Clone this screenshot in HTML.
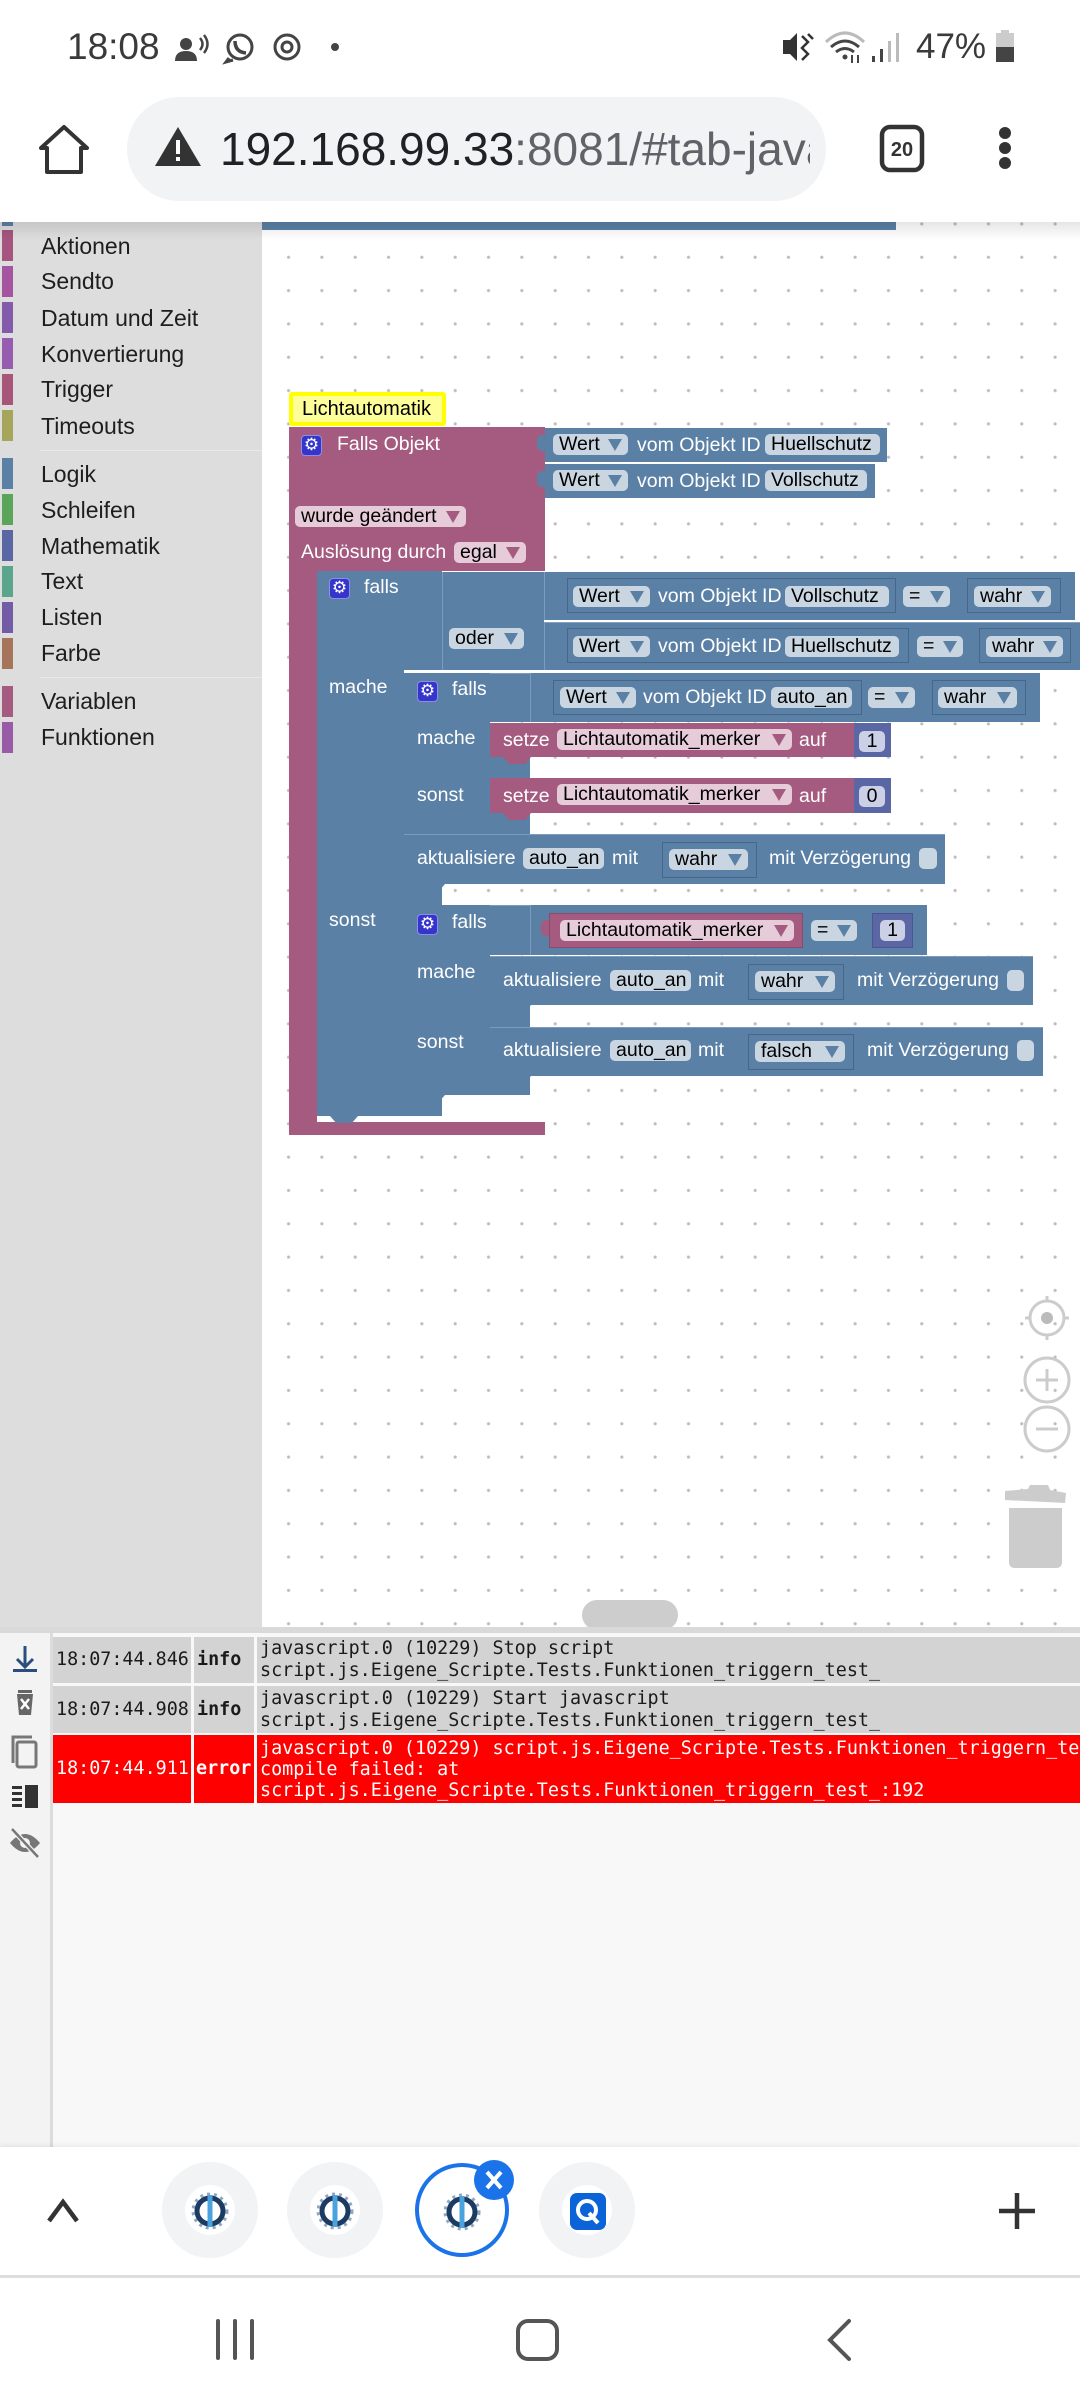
<!DOCTYPE html>
<html><head><meta charset="utf-8">
<style>
*{box-sizing:border-box}
body{margin:0;width:1080px;height:2400px;position:relative;overflow:hidden;background:#fff;font-family:"Liberation Sans",Arial,sans-serif}
.a{position:absolute}
.bl{position:absolute;background:#5b80a5}
.pk{position:absolute;background:#a55b80}
.nm{position:absolute;background:#5b67a5}
.t{position:absolute;color:#fff;font-size:19.5px;line-height:22px;white-space:nowrap}
.f{position:absolute;background:#c9d6e2;border-radius:5px;color:#000;font-size:19.5px;line-height:21px;height:21px;padding-left:6px;white-space:nowrap}
.fp{background:#e6cbd9}
.fn{background:#ccd0e6;padding-left:0;text-align:center}
.tri{position:absolute;right:6px;top:5px;width:0;height:0;border-left:7px solid transparent;border-right:7px solid transparent;border-top:12px solid #5b80a5}
.fp .tri{border-top-color:#a55b80}
.ob{position:absolute;background:#5b80a5;border:1.5px solid #46678a}
.gear{position:absolute;width:21px;height:21px;background:#3535cc;border:1.5px solid #8d8de8;border-radius:4px;color:#fff;font-size:17px;line-height:18px;text-align:center;font-family:"DejaVu Sans",sans-serif}
.tab{position:absolute;width:28px;height:7px;clip-path:polygon(0 0,100% 0,78% 100%,22% 100%)}
.cat{position:absolute;left:41px;font-size:23px;line-height:28px;color:#1e1e1e;white-space:nowrap}
.cb{position:absolute;left:2px;width:11px;height:31px}
.cell{position:absolute;display:flex;align-items:center;font-family:"DejaVu Sans Mono","Liberation Mono",monospace;font-size:18.4px;line-height:22px;white-space:nowrap;overflow:hidden;color:#1a1a1a}
.chk{position:absolute;background:#c9d6e2;border-radius:5px;height:21px}
</style></head><body>

<!-- Status bar -->
<div class="a" style="left:67px;top:26px;font-size:37px;line-height:42px;color:#3a3a3a">18:08</div>
<div class="a" style="left:916px;top:27px;font-size:35px;line-height:40px;color:#3a3a3a">47%</div>
<svg class="a" style="left:0;top:0" width="1080" height="222">
  <circle cx="186" cy="44" r="6" fill="#444"/>
  <path d="M175 61 Q175 51 186 51 Q197 51 197 61 Z" fill="#444"/>
  <path d="M200 38 Q205 44 200 50" stroke="#444" stroke-width="2.5" fill="none"/>
  <path d="M204 35 Q211 44 204 53" stroke="#444" stroke-width="2.5" fill="none"/>
  <circle cx="240" cy="47" r="12" stroke="#444" stroke-width="3" fill="none"/>
  <path d="M229 58 L226 62 L233 60" stroke="#444" stroke-width="3" fill="none"/>
  <path d="M235 41 Q235 52 246 53" stroke="#444" stroke-width="3.5" fill="none"/>
  <circle cx="287" cy="47" r="12" stroke="#444" stroke-width="3" fill="none"/>
  <circle cx="287" cy="47" r="5" stroke="#444" stroke-width="3" fill="none"/>
  <circle cx="335" cy="47" r="4" fill="#444"/>
  <path d="M783 40 L790 40 L797 33 L797 61 L790 54 L783 54 Z" fill="#333"/>
  <path d="M802 36 L808 42 L802 48 L808 54 L802 60" stroke="#333" stroke-width="2.5" fill="none"/>
  <path d="M808 34 L813 39" stroke="#333" stroke-width="2.5"/>
  <path d="M826 42 Q845 24 864 42" stroke="#bbb" stroke-width="3" fill="none"/>
  <path d="M831 47 Q845 35 859 47" stroke="#444" stroke-width="3" fill="none"/>
  <path d="M836 52 Q845 45 854 52" stroke="#444" stroke-width="3" fill="none"/>
  <circle cx="845" cy="57" r="2.5" fill="#444"/>
  <path d="M852 55 L852 63 M858 63 L858 55" stroke="#444" stroke-width="2"/>
  <rect x="872" y="56" width="3" height="6" fill="#444"/>
  <rect x="880" y="49" width="3" height="13" fill="#444"/>
  <rect x="888" y="41" width="3" height="21" fill="#bbb"/>
  <rect x="896" y="33" width="3" height="29" fill="#bbb"/>
  <rect x="1001" y="30" width="8" height="4" fill="#ccc"/>
  <rect x="996" y="33" width="18" height="14" fill="#ccc"/>
  <rect x="996" y="47" width="18" height="15" fill="#444"/>
</svg>

<!-- Browser toolbar -->
<div class="a" style="left:127px;top:97px;width:699px;height:104px;border-radius:52px;background:#f1f3f4"></div>
<div class="a" style="left:220px;top:121px;width:590px;height:60px;overflow:hidden;font-size:46px;line-height:56px;white-space:nowrap;color:#202124">192.168.99.33<span style="color:#5f6368">:8081/#tab-javascript</span></div>
<svg class="a" style="left:0;top:90px" width="1080" height="120">
  <path d="M47 82 L47 58 L41 58 L64 37 L87 58 L81 58 L81 82 Z" stroke="#333" stroke-width="4" fill="none" stroke-linejoin="round"/>
  <polygon points="178,37 155,76 201,76" fill="#333"/>
  <rect x="176" y="50" width="4" height="14" fill="#fff"/>
  <rect x="176" y="67" width="4" height="4" fill="#fff"/>
  <rect x="882" y="37" width="40" height="43" rx="8" stroke="#333" stroke-width="4.5" fill="none"/>
  <text x="902" y="66" font-family="Liberation Sans" font-weight="bold" font-size="20" text-anchor="middle" fill="#333">20</text>
  <circle cx="1005" cy="43" r="6" fill="#333"/>
  <circle cx="1005" cy="58" r="6" fill="#333"/>
  <circle cx="1005" cy="73" r="6" fill="#333"/>
</svg>

<!-- Sidebar -->
<div class="a" style="left:0;top:222px;width:262px;height:1405px;background:#dddddd"></div>
<div class="a" style="left:40px;top:450px;width:222px;height:1px;background:#e9e9e9"></div>
<div class="a" style="left:40px;top:677px;width:222px;height:1px;background:#e9e9e9"></div>
<div class="cb" style="top:222px;height:4px;background:#5b80a5"></div>
<div class="cb" style="top:230px;background:#a5557f"></div><div class="cat" style="top:232px">Aktionen</div>
<div class="cb" style="top:266px;background:#a555a0"></div><div class="cat" style="top:267px">Sendto</div>
<div class="cb" style="top:302px;background:#845aaa"></div><div class="cat" style="top:304px">Datum und Zeit</div>
<div class="cb" style="top:338px;background:#975bb0"></div><div class="cat" style="top:340px">Konvertierung</div>
<div class="cb" style="top:374px;background:#a8557a"></div><div class="cat" style="top:375px">Trigger</div>
<div class="cb" style="top:410px;background:#a5a55b"></div><div class="cat" style="top:412px">Timeouts</div>
<div class="cb" style="top:458px;background:#5b80a5"></div><div class="cat" style="top:460px">Logik</div>
<div class="cb" style="top:494px;background:#5ba55b"></div><div class="cat" style="top:496px">Schleifen</div>
<div class="cb" style="top:530px;background:#5b67a5"></div><div class="cat" style="top:532px">Mathematik</div>
<div class="cb" style="top:566px;background:#5ba58c"></div><div class="cat" style="top:567px">Text</div>
<div class="cb" style="top:602px;background:#745ba5"></div><div class="cat" style="top:603px">Listen</div>
<div class="cb" style="top:638px;background:#a5745b"></div><div class="cat" style="top:639px">Farbe</div>
<div class="cb" style="top:686px;background:#a55b80"></div><div class="cat" style="top:687px">Variablen</div>
<div class="cb" style="top:722px;background:#995ba5"></div><div class="cat" style="top:723px">Funktionen</div>

<!-- Workspace -->
<div class="a" style="left:262px;top:222px;width:818px;height:1405px;background-color:#fff;background-image:radial-gradient(circle,#bdbdbd 0,#bdbdbd 1.3px,rgba(255,255,255,0) 1.9px);background-size:33.33px 33.33px;background-position:9.9px 18.6px"></div>
<div class="bl" style="left:262px;top:222px;width:634px;height:8px"></div>

<!-- comment -->
<div class="a" style="left:289px;top:392px;width:157px;height:34px;background:#ffff99;border:4px solid #ffff00;border-radius:3px;font-size:20px;line-height:26px;padding-left:9px;color:#000;white-space:nowrap">Lichtautomatik</div>

<!-- Pink event block -->
<div class="pk" style="left:289px;top:427px;width:256px;height:144px"></div>
<div class="pk" style="left:289px;top:427px;width:28px;height:708px"></div>
<div class="pk" style="left:289px;top:1122px;width:256px;height:13px"></div>
<div class="gear" style="left:301px;top:435px">⚙</div>
<div class="t" style="left:337px;top:433px">Falls Objekt</div>
<div class="f fp" style="left:295px;top:506px;width:171px">wurde geändert<span class="tri"></span></div>
<div class="t" style="left:301px;top:541px">Auslösung durch</div>
<div class="f fp" style="left:454px;top:542px;width:72px">egal<span class="tri"></span></div>

<!-- Wert blocks on pink -->
<div class="bl" style="left:545px;top:428px;width:342px;height:34px"></div>
<div class="bl" style="left:537px;top:435px;width:9px;height:16px;border-radius:5px 0 0 5px"></div>
<div class="f" style="left:553px;top:434px;width:75px">Wert<span class="tri"></span></div>
<div class="t" style="left:637px;top:434px">vom Objekt ID</div>
<div class="f" style="left:765px;top:434px;width:115px">Huellschutz</div>

<div class="bl" style="left:545px;top:464px;width:330px;height:34px"></div>
<div class="bl" style="left:537px;top:471px;width:9px;height:16px;border-radius:5px 0 0 5px"></div>
<div class="f" style="left:553px;top:470px;width:75px">Wert<span class="tri"></span></div>
<div class="t" style="left:637px;top:470px">vom Objekt ID</div>
<div class="f" style="left:765px;top:470px;width:102px">Vollschutz</div>

<!-- Outer falls -->
<div class="bl" style="left:317px;top:571px;width:125px;height:99px"></div>
<div class="bl" style="left:317px;top:571px;width:87px;height:545px"></div>
<div class="bl" style="left:317px;top:884px;width:125px;height:21px"></div>
<div class="bl" style="left:317px;top:1095px;width:125px;height:21px"></div>
<div class="tab" style="left:330px;top:1116px;background:#5b80a5"></div>
<div class="gear" style="left:329px;top:578px">⚙</div>
<div class="t" style="left:364px;top:576px">falls</div>
<div class="t" style="left:329px;top:676px">mache</div>
<div class="t" style="left:329px;top:909px">sonst</div>

<!-- oder block -->
<div class="bl" style="left:442px;top:572px;width:102px;height:98px;border-left:1px solid #7d9cbb"></div>
<div class="f" style="left:449px;top:628px;width:75px">oder<span class="tri"></span></div>

<!-- compare 1 -->
<div class="bl" style="left:544px;top:572px;width:531px;height:48px;border-left:1px solid #7d9cbb"></div>
<div class="ob" style="left:567px;top:578px;width:329px;height:35px"></div>
<div class="f" style="left:573px;top:586px;width:77px">Wert<span class="tri"></span></div>
<div class="t" style="left:658px;top:585px">vom Objekt ID</div>
<div class="f" style="left:785px;top:586px;width:104px">Vollschutz</div>
<div class="f" style="left:903px;top:586px;width:47px">=<span class="tri"></span></div>
<div class="ob" style="left:967px;top:578px;width:94px;height:35px"></div>
<div class="f" style="left:974px;top:586px;width:77px">wahr<span class="tri"></span></div>

<!-- compare 2 -->
<div class="bl" style="left:544px;top:622px;width:536px;height:48px;border-left:1px solid #7d9cbb;border-top:1px solid #86a2bf"></div>
<div class="ob" style="left:567px;top:628px;width:342px;height:35px"></div>
<div class="f" style="left:573px;top:636px;width:77px">Wert<span class="tri"></span></div>
<div class="t" style="left:658px;top:635px">vom Objekt ID</div>
<div class="f" style="left:785px;top:636px;width:114px">Huellschutz</div>
<div class="f" style="left:917px;top:636px;width:46px">=<span class="tri"></span></div>
<div class="ob" style="left:979px;top:628px;width:92px;height:35px"></div>
<div class="f" style="left:986px;top:636px;width:77px">wahr<span class="tri"></span></div>

<!-- Inner falls 1 -->
<div class="bl" style="left:404px;top:673px;width:126px;height:49px;border-top:1px solid #7d9cbb"></div>
<div class="bl" style="left:404px;top:673px;width:86px;height:161px"></div>
<div class="bl" style="left:404px;top:757px;width:126px;height:21px"></div>
<div class="bl" style="left:404px;top:813px;width:126px;height:21px"></div>
<div class="gear" style="left:417px;top:681px">⚙</div>
<div class="t" style="left:452px;top:678px">falls</div>
<div class="t" style="left:417px;top:727px">mache</div>
<div class="t" style="left:417px;top:784px">sonst</div>

<div class="bl" style="left:530px;top:673px;width:510px;height:49px;border-left:1px solid #7d9cbb"></div>
<div class="ob" style="left:553px;top:680px;width:309px;height:35px"></div>
<div class="f" style="left:560px;top:687px;width:76px">Wert<span class="tri"></span></div>
<div class="t" style="left:643px;top:686px">vom Objekt ID</div>
<div class="f" style="left:771px;top:687px;width:81px">auto_an</div>
<div class="f" style="left:868px;top:687px;width:47px">=<span class="tri"></span></div>
<div class="ob" style="left:932px;top:680px;width:94px;height:35px"></div>
<div class="f" style="left:938px;top:687px;width:79px">wahr<span class="tri"></span></div>

<!-- setze 1 -->
<div class="pk" style="left:490px;top:723px;width:364px;height:34px"></div>
<div class="tab" style="left:503px;top:757px;background:#a55b80"></div>
<div class="t" style="left:503px;top:729px">setze</div>
<div class="f fp" style="left:557px;top:729px;width:235px">Lichtautomatik_merker<span class="tri"></span></div>
<div class="t" style="left:799px;top:729px">auf</div>
<div class="nm" style="left:854px;top:723px;width:37px;height:34px"></div>
<div class="f fn" style="left:859px;top:731px;width:26px">1</div>

<!-- setze 2 -->
<div class="pk" style="left:490px;top:778px;width:364px;height:35px"></div>
<div class="tab" style="left:503px;top:813px;background:#a55b80"></div>
<div class="t" style="left:503px;top:785px">setze</div>
<div class="f fp" style="left:557px;top:784px;width:235px">Lichtautomatik_merker<span class="tri"></span></div>
<div class="t" style="left:799px;top:785px">auf</div>
<div class="nm" style="left:854px;top:778px;width:37px;height:35px"></div>
<div class="f fn" style="left:859px;top:786px;width:26px">0</div>

<!-- aktualisiere 1 -->
<div class="bl" style="left:404px;top:834px;width:541px;height:50px;border-top:1px solid #7d9cbb"></div>
<div class="tab" style="left:417px;top:884px;background:#5b80a5"></div>
<div class="t" style="left:417px;top:847px">aktualisiere</div>
<div class="f" style="left:523px;top:848px;width:81px">auto_an</div>
<div class="t" style="left:612px;top:847px">mit</div>
<div class="ob" style="left:662px;top:842px;width:95px;height:36px"></div>
<div class="f" style="left:669px;top:849px;width:79px">wahr<span class="tri"></span></div>
<div class="t" style="left:769px;top:847px">mit Verzögerung</div>
<div class="chk" style="left:919px;top:848px;width:18px"></div>

<!-- Inner falls 2 -->
<div class="bl" style="left:404px;top:905px;width:126px;height:50px;border-top:1px solid #7d9cbb"></div>
<div class="bl" style="left:404px;top:905px;width:86px;height:190px"></div>
<div class="bl" style="left:404px;top:1005px;width:126px;height:22px"></div>
<div class="bl" style="left:404px;top:1076px;width:126px;height:19px"></div>
<div class="tab" style="left:417px;top:1095px;background:#5b80a5"></div>
<div class="gear" style="left:417px;top:914px">⚙</div>
<div class="t" style="left:452px;top:911px">falls</div>
<div class="t" style="left:417px;top:961px">mache</div>
<div class="t" style="left:417px;top:1031px">sonst</div>

<div class="bl" style="left:530px;top:905px;width:397px;height:50px;border-left:1px solid #7d9cbb"></div>
<div class="pk" style="left:541px;top:920px;width:9px;height:16px;border-radius:5px 0 0 5px"></div>
<div class="pk" style="left:549px;top:913px;width:254px;height:35px;border:1.5px solid #8c4a6b"></div>
<div class="f fp" style="left:560px;top:920px;width:234px">Lichtautomatik_merker<span class="tri"></span></div>
<div class="f" style="left:811px;top:920px;width:46px">=<span class="tri"></span></div>
<div class="nm" style="left:872px;top:913px;width:41px;height:35px;border:1.5px solid #4b5690"></div>
<div class="f fn" style="left:880px;top:920px;width:25px">1</div>

<!-- aktualisiere 2 -->
<div class="bl" style="left:490px;top:956px;width:543px;height:49px;border-top:1px solid #7d9cbb"></div>
<div class="tab" style="left:503px;top:1005px;background:#5b80a5"></div>
<div class="t" style="left:503px;top:969px">aktualisiere</div>
<div class="f" style="left:610px;top:970px;width:81px">auto_an</div>
<div class="t" style="left:698px;top:969px">mit</div>
<div class="ob" style="left:748px;top:964px;width:96px;height:36px"></div>
<div class="f" style="left:755px;top:971px;width:80px">wahr<span class="tri"></span></div>
<div class="t" style="left:857px;top:969px">mit Verzögerung</div>
<div class="chk" style="left:1007px;top:970px;width:17px"></div>

<!-- aktualisiere 3 -->
<div class="bl" style="left:490px;top:1027px;width:553px;height:49px;border-top:1px solid #7d9cbb"></div>
<div class="tab" style="left:503px;top:1076px;background:#5b80a5"></div>
<div class="t" style="left:503px;top:1039px">aktualisiere</div>
<div class="f" style="left:610px;top:1040px;width:81px">auto_an</div>
<div class="t" style="left:698px;top:1039px">mit</div>
<div class="ob" style="left:748px;top:1034px;width:106px;height:36px"></div>
<div class="f" style="left:755px;top:1041px;width:90px">falsch<span class="tri"></span></div>
<div class="t" style="left:867px;top:1039px">mit Verzögerung</div>
<div class="chk" style="left:1017px;top:1040px;width:17px"></div>

<!-- workspace controls -->
<svg class="a" style="left:980px;top:1280px" width="100" height="300">
  <g transform="translate(-980,-1280)">
    <circle cx="1047" cy="1318" r="17" stroke="#cccccc" stroke-width="3" fill="none"/>
    <circle cx="1047" cy="1318" r="6" fill="#bbbbbb"/>
    <path d="M1047 1296 V1302 M1047 1334 V1340 M1025 1318 H1031 M1063 1318 H1069" stroke="#cccccc" stroke-width="3"/>
    <circle cx="1047" cy="1380" r="22" stroke="#cccccc" stroke-width="3" fill="none"/>
    <path d="M1036 1380 H1058 M1047 1369 V1391" stroke="#cccccc" stroke-width="3"/>
    <circle cx="1047" cy="1429" r="22" stroke="#cccccc" stroke-width="3" fill="none"/>
    <path d="M1036 1429 H1058" stroke="#cccccc" stroke-width="3"/>
    <polygon points="1005,1491 1028,1489 1030,1485 1048,1485 1050,1490 1066,1493 1065,1503 1005,1500" fill="#cccccc"/>
    <path d="M1009 1508 H1062 V1562 Q1062 1568 1056 1568 H1015 Q1009 1568 1009 1562 Z" fill="#cccccc"/>
  </g>
</svg>

<!-- scrollbar + separator -->
<div class="a" style="left:582px;top:1600px;width:96px;height:30px;border-radius:15px;background:#cdcdcd"></div>
<div class="a" style="left:0;top:1627px;width:1080px;height:6px;background:#d9d9d9"></div>

<!-- Log panel -->
<div class="a" style="left:0;top:1633px;width:1080px;height:514px;background:#f8f8f8"></div>
<div class="a" style="left:0;top:1633px;width:50px;height:514px;background:#f3f3f3"></div>
<div class="a" style="left:50px;top:1633px;width:3px;height:514px;background:#dcdcdc"></div>
<svg class="a" style="left:0;top:1633px" width="50" height="240">
  <path d="M25 13 V33 M17 26 L25 34 L33 26" stroke="#2b4f7c" stroke-width="3" fill="none"/>
  <rect x="13" y="36" width="24" height="3" fill="#2b4f7c"/>
  <rect x="18" y="57" width="14" height="3" fill="#666"/>
  <path d="M17 61 H33 L31 82 H19 Z" fill="#666"/>
  <path d="M21 66 L29 76 M29 66 L21 76" stroke="#fff" stroke-width="2.5"/>
  <path d="M13 130 V104 H32" stroke="#777" stroke-width="3" fill="none"/>
  <rect x="17" y="109" width="19" height="25" rx="2" stroke="#777" stroke-width="3" fill="none"/>
  <rect x="12" y="153" width="10" height="3" fill="#333"/>
  <rect x="12" y="159" width="10" height="3" fill="#333"/>
  <rect x="12" y="165" width="10" height="3" fill="#333"/>
  <rect x="12" y="171" width="10" height="3" fill="#333"/>
  <rect x="25" y="152" width="13" height="23" fill="#333"/>
  <path d="M10 210 Q25 192 40 210 Q25 228 10 210 Z" fill="#777"/>
  <circle cx="25" cy="210" r="5" fill="#f3f3f3"/>
  <path d="M12 196 L38 224" stroke="#f3f3f3" stroke-width="5"/>
  <path d="M12 196 L38 224" stroke="#777" stroke-width="2.5"/>
</svg>

<!-- Row 1 -->
<div class="cell" style="left:53px;top:1637px;width:138px;height:46px;background:#d3d3d3;padding-left:3px">18:07:44.846</div>
<div class="cell" style="left:194px;top:1637px;width:60px;height:46px;background:#d3d3d3;padding-left:3px;font-weight:bold">info</div>
<div class="cell" style="left:257px;top:1637px;width:823px;height:46px;background:#d3d3d3;padding-left:3px">javascript.0 (10229) Stop script<br>script.js.Eigene_Scripte.Tests.Funktionen_triggern_test_</div>
<!-- Row 2 -->
<div class="cell" style="left:53px;top:1686px;width:138px;height:47px;background:#d3d3d3;padding-left:3px">18:07:44.908</div>
<div class="cell" style="left:194px;top:1686px;width:60px;height:47px;background:#d3d3d3;padding-left:3px;font-weight:bold">info</div>
<div class="cell" style="left:257px;top:1686px;width:823px;height:47px;background:#d3d3d3;padding-left:3px">javascript.0 (10229) Start javascript<br>script.js.Eigene_Scripte.Tests.Funktionen_triggern_test_</div>
<!-- Row 3 -->
<div class="cell" style="left:53px;top:1735px;width:138px;height:68px;background:#ff0000;padding-left:3px;color:#fff">18:07:44.911</div>
<div class="cell" style="left:194px;top:1735px;width:60px;height:68px;background:#ff0000;padding-left:2px;color:#fff;font-weight:bold">error</div>
<div class="cell" style="left:257px;top:1735px;width:823px;height:68px;background:#ff0000;padding-left:3px;color:#fff;line-height:21px">javascript.0 (10229) script.js.Eigene_Scripte.Tests.Funktionen_triggern_test_:<br>compile failed: at<br>script.js.Eigene_Scripte.Tests.Funktionen_triggern_test_:192</div>

<!-- Bottom tab bar -->
<div class="a" style="left:0;top:2147px;width:1080px;height:128px;background:#fff;box-shadow:0 -2px 4px rgba(0,0,0,0.06)"></div>
<div class="a" style="left:0;top:2275px;width:1080px;height:3px;background:#dddddd"></div>
<svg class="a" style="left:0;top:2147px" width="1080" height="253">
  <g transform="translate(0,-2147)">
    <path d="M49 2221 L63 2202 L77 2221" stroke="#333" stroke-width="4.5" fill="none"/>
    <circle cx="210" cy="2210" r="48" fill="#f1f3f4"/>
    <circle cx="210" cy="2210" r="25" fill="#fff"/>
    <circle cx="335" cy="2210" r="48" fill="#f1f3f4"/>
    <circle cx="335" cy="2210" r="25" fill="#fff"/>
    <circle cx="587" cy="2210" r="48" fill="#f1f3f4"/>
    <circle cx="587" cy="2210" r="25" fill="#fff"/>
    <circle cx="462" cy="2210" r="45" fill="#fff" stroke="#1a73e8" stroke-width="4"/>
    <g>
      <circle cx="210" cy="2211" r="17" stroke="#8fa8c0" stroke-width="3" stroke-dasharray="3 4" fill="none"/>
      <circle cx="210" cy="2211" r="13" stroke="#1c3b63" stroke-width="5" fill="none"/>
      <rect x="207.5" y="2195" width="5" height="32" fill="#4aa3df"/>
      <circle cx="335" cy="2211" r="17" stroke="#8fa8c0" stroke-width="3" stroke-dasharray="3 4" fill="none"/>
      <circle cx="335" cy="2211" r="13" stroke="#1c3b63" stroke-width="5" fill="none"/>
      <rect x="332.5" y="2195" width="5" height="32" fill="#4aa3df"/>
      <circle cx="462" cy="2212" r="17" stroke="#8fa8c0" stroke-width="3" stroke-dasharray="3 4" fill="none"/>
      <circle cx="462" cy="2212" r="13" stroke="#1c3b63" stroke-width="5" fill="none"/>
      <rect x="459.5" y="2196" width="5" height="32" fill="#4aa3df"/>
    </g>
    <circle cx="494" cy="2180" r="20" fill="#1a73e8"/>
    <path d="M487 2172 L501 2188 M501 2172 L487 2188" stroke="#fff" stroke-width="4"/>
    <rect x="570" y="2193" width="36" height="37" rx="7" fill="#0b63d8"/>
    <circle cx="587" cy="2210" r="9" stroke="#fff" stroke-width="4" fill="none"/>
    <path d="M589 2213 L598 2223" stroke="#fff" stroke-width="4"/>
    <path d="M999 2211 H1035 M1017 2193 V2229" stroke="#333" stroke-width="4.5"/>
    <path d="M218 2321 V2358 M235 2321 V2358 M252 2321 V2358" stroke="#555" stroke-width="4" stroke-linecap="round"/>
    <rect x="518" y="2321" width="39" height="38" rx="10" stroke="#555" stroke-width="4" fill="none"/>
    <path d="M849 2321 L830 2340 L849 2359" stroke="#555" stroke-width="4" fill="none" stroke-linecap="round"/>
  </g>
</svg>

<!-- toolbar shadow -->
<div class="a" style="left:0;top:222px;width:1080px;height:18px;background:linear-gradient(rgba(0,0,0,0.10),rgba(0,0,0,0))"></div>
</body></html>
